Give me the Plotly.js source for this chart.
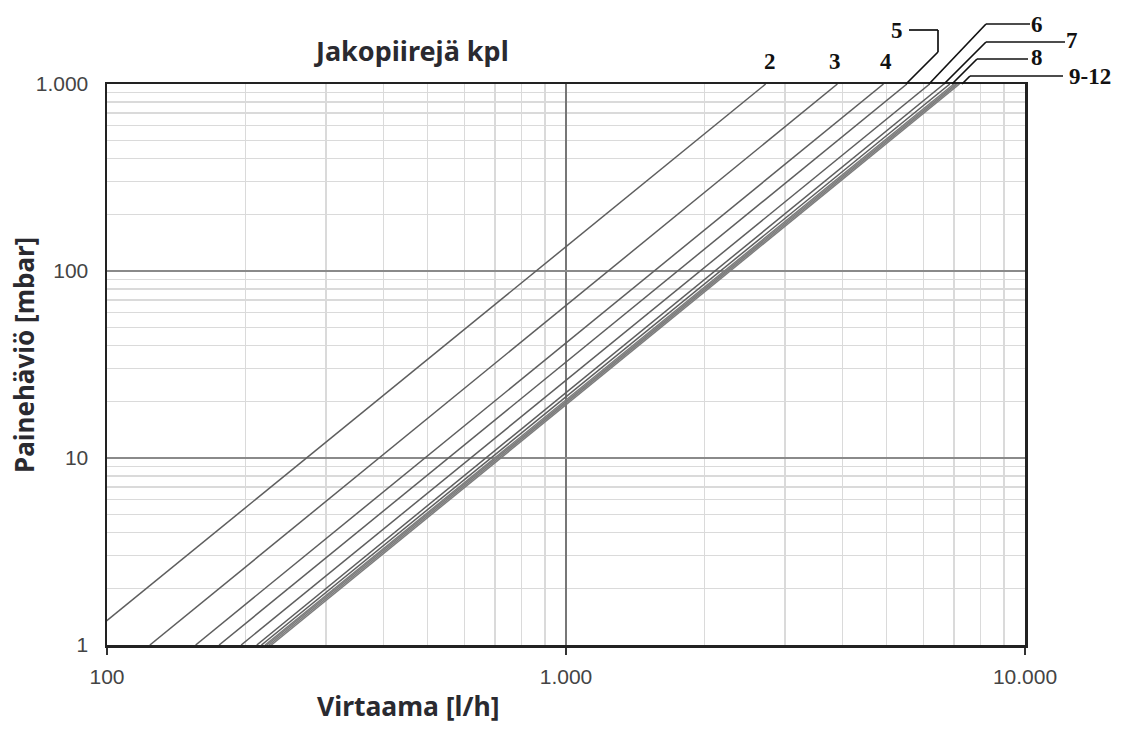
<!DOCTYPE html>
<html>
<head>
<meta charset="utf-8">
<script src="https://cdn.plot.ly/plotly-3.0.1.min.js"></script>
<style>
  html, body { margin: 0; padding: 0; background: #ffffff; }
  #chart { width: 1124px; height: 729px; }
</style>
</head>
<body>
<div id="chart"></div>
<script>
// Pressure drop of the manifold by number of heating circuits (Δp ∝ Q²)
const circuits = ['2', '3', '4', '5', '6', '7', '8', '9', '10', '11', '12'];
// Flow [l/h] at 1 mbar and at 1000 mbar for each circuit count
const flowAt1mbar    = [86, 124, 156, 175.5, 196, 212, 217, 221, 223, 225.5, 228];
const flowAt1000mbar = [2723, 3902, 4917, 5530, 6200, 6660, 6860, 7000, 7070, 7130, 7200];
const pressureEnds = [1, 1000];

const xTickVals = [100, 1000, 10000];
const xTickText = ['100', '1.000', '10.000'];
const yTickVals = [1, 10, 100, 1000];
const yTickText = ['1', '10', '100', '1.000'];
const xMinor = [200, 300, 400, 500, 600, 700, 800, 900, 2000, 3000, 4000, 5000, 6000, 7000, 8000, 9000];
const yMinor = [2, 3, 4, 5, 6, 7, 8, 9, 20, 30, 40, 50, 60, 70, 80, 90, 200, 300, 400, 500, 600, 700, 800, 900];

// Curve labels drawn above the frame
const curveLabels = ['2', '3', '4', '5', '6', '7', '8', '9-12'];

// Plot box in pixels, used to place the labels and their leader lines
const W = 1124, H = 729;
const box = { l: 107, r: 1025, t: 84, b: 645 };
const px = x => (x - box.l) / (box.r - box.l);
const py = y => (box.b - y) / (box.b - box.t);

const traces = circuits.map((c, i) => ({
  type: 'scatter',
  mode: 'lines',
  name: c,
  x: [flowAt1mbar[i], flowAt1000mbar[i]],
  y: pressureEnds,
  line: { color: i < 7 ? '#5e5e5e' : '#7d7d7d', width: 1.5 },
  hoverinfo: 'x+y+name'
}));

// label positions (pixel) for the curve numbers
const labelPos = [
  [770, 62], [835, 62], [886, 62], [897, 30], [1037, 24], [1072, 41], [1037, 58], [1090, 76]
];

const annotations = curveLabels.map((t, i) => ({
  xref: 'paper', yref: 'paper',
  x: px(labelPos[i][0]), y: py(labelPos[i][1]),
  text: '<b>' + t + '</b>',
  showarrow: false,
  xanchor: 'center', yanchor: 'middle',
  font: { family: 'Liberation Serif, Times New Roman, serif', size: 23, color: '#111111' }
}));

annotations.push({
  xref: 'paper', yref: 'paper', x: px(411), y: py(50),
  text: '<b>Jakopiirejä kpl</b>', showarrow: false,
  xanchor: 'center', yanchor: 'middle',
  font: { family: 'Noto Sans, Open Sans, sans-serif', size: 27, color: '#2a2a30' }
});
annotations.push({
  xref: 'paper', yref: 'paper', x: px(408), y: py(706),
  text: '<b>Virtaama [l/h]</b>', showarrow: false,
  xanchor: 'center', yanchor: 'middle',
  font: { family: 'Noto Sans, Open Sans, sans-serif', size: 26.5, color: '#2a2a30' }
});
annotations.push({
  xref: 'paper', yref: 'paper', x: px(24), y: py(355),
  text: '<b>Painehäviö [mbar]</b>', showarrow: false, textangle: -90,
  xanchor: 'center', yanchor: 'middle',
  font: { family: 'Noto Sans, Open Sans, sans-serif', size: 26, color: '#2a2a30' }
});

// leader lines from the labels down to the curve ends on the top frame
const leaders = [
  [[909, 30], [938, 30]], [[938, 30], [938, 52]], [[938, 52], [906, 84]],
  [[986, 24], [1030, 24]], [[986, 24], [929, 84]],
  [[986, 42], [1065, 42]], [[986, 42], [944, 84]],
  [[977, 59], [1028, 59]], [[977, 59], [952, 84]],
  [[970, 76], [1063, 76]], [[970, 76], [962, 84]]
];

const shapes = leaders.map(s => ({
  type: 'line', xref: 'paper', yref: 'paper',
  x0: px(s[0][0]), y0: py(s[0][1]), x1: px(s[1][0]), y1: py(s[1][1]),
  line: { color: '#111111', width: 1.7 }
}));

// the 10 mbar grid line is drawn darker than the others
shapes.push({
  type: 'line', xref: 'paper', yref: 'y', layer: 'below',
  x0: 0, x1: 1, y0: 10, y1: 10,
  line: { color: '#2e2e2e', width: 2 }
});

const tickFont = { family: 'Liberation Sans, Arial, sans-serif', size: 21, color: '#444444' };

const layout = {
  width: W, height: H,
  margin: { l: box.l, r: W - box.r, t: box.t, b: H - box.b, pad: 0 },
  paper_bgcolor: '#ffffff',
  plot_bgcolor: '#ffffff',
  showlegend: false,
  xaxis: {
    type: 'log', range: [2, 4],
    tickvals: xTickVals, ticktext: xTickText,
    ticks: 'outside', ticklen: 7, tickwidth: 1.5, tickcolor: '#333333',
    tickfont: tickFont, ticklabelstandoff: 4,
    showgrid: true, gridcolor: '#777777', gridwidth: 1.3,
    minor: { tickvals: xMinor, showgrid: true, gridcolor: '#dadada', gridwidth: 1.3, ticks: '' },
    showline: true, mirror: true, linecolor: '#222222', linewidth: 2.5,
    zeroline: false
  },
  yaxis: {
    type: 'log', range: [0, 3],
    tickvals: yTickVals, ticktext: yTickText,
    ticks: '', tickfont: tickFont, ticklabelstandoff: 12,
    showgrid: true, gridcolor: '#8a8a8a', gridwidth: 1.3,
    minor: { tickvals: yMinor, showgrid: true, gridcolor: '#dadada', gridwidth: 1.3, ticks: '' },
    showline: true, mirror: true, linecolor: '#222222', linewidth: 2.5,
    zeroline: false
  },
  annotations: annotations,
  shapes: shapes
};

Plotly.newPlot('chart', traces, layout, { displayModeBar: false, staticPlot: true });
</script>
</body>
</html>
